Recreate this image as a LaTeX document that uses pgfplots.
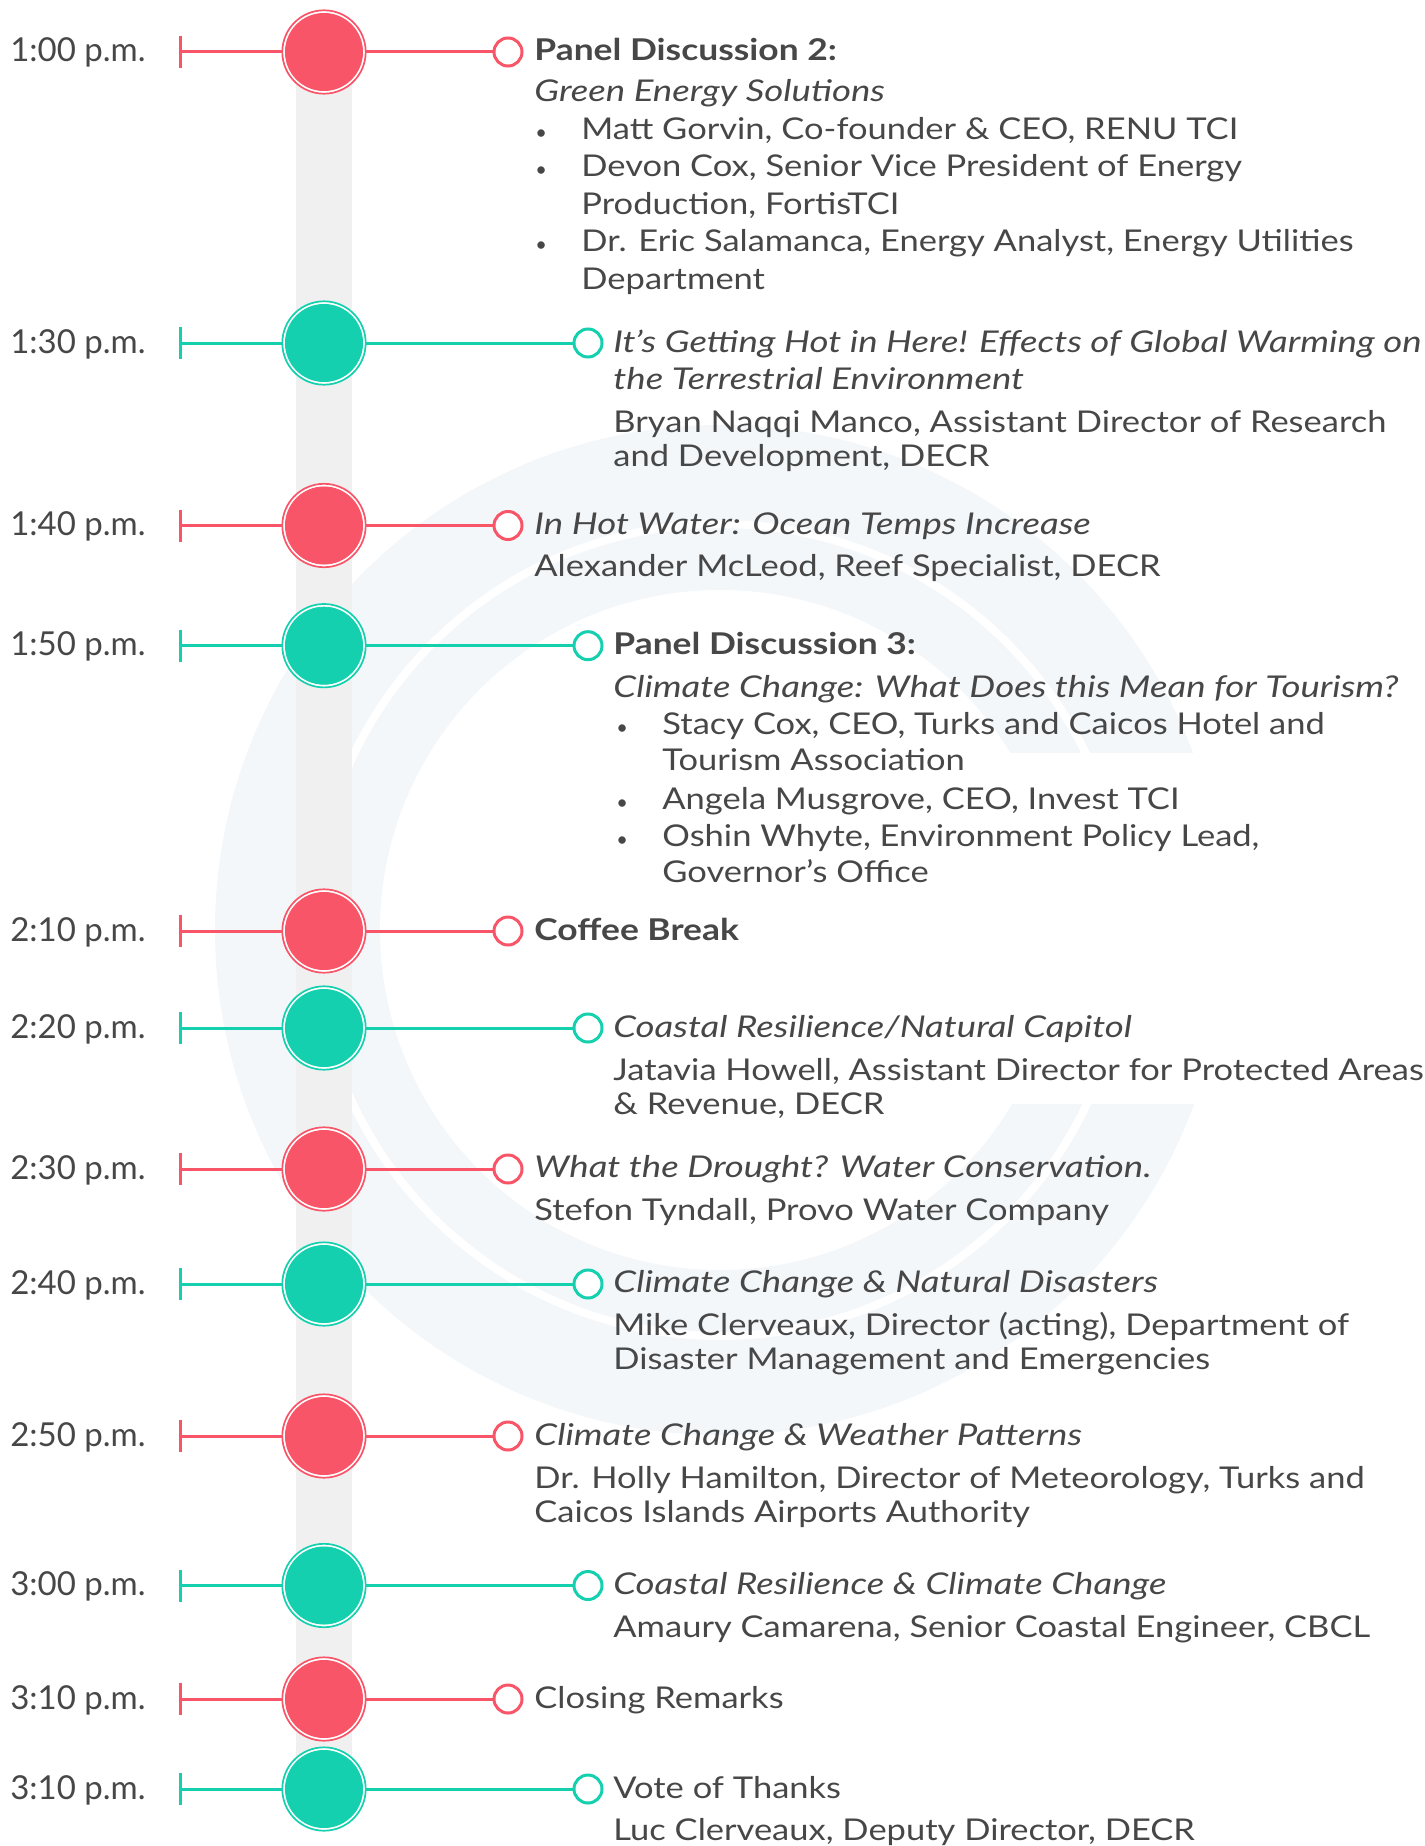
\documentclass[border=0pt]{standalone}
\usepackage{pgfplots}
\pgfplotsset{compat=1.18}
\usepackage{fontspec}
\setmainfont{Lato}[FakeStretch=1.15, ItalicFeatures={FakeStretch=1.22}, BoldFeatures={FakeStretch=1.18}]
\newfontfamily\timefont{Lato}
\definecolor{cred}{HTML}{F85568}
\definecolor{cgreen}{HTML}{14D0AF}
\definecolor{ctext}{HTML}{474747}
\definecolor{ccol}{HTML}{F0F0F0}
\definecolor{cwm}{HTML}{F3F7FA}
\tikzset{
  tx/.style={anchor=base west, inner sep=0pt, text=ctext, font=\fontsize{15}{18}\selectfont},
  bl/.style={anchor=base west, inner sep=0pt, text=ctext, font=\timefont\fontsize{10}{12}\selectfont},
  tm/.style={anchor=base, inner sep=0pt, text=ctext, font=\timefont\fontsize{16.5}{20}\selectfont},
}
\begin{document}
\begin{tikzpicture}
\begin{axis}[name=ax, width=712pt, height=923pt, scale only axis,
  xmin=0, xmax=1424, ymin=0, ymax=1846, y dir=reverse,
  hide axis, clip=false, unbounded coords=jump]
% faint watermark ring
\fill[cwm, even odd rule] (axis cs:720,930) circle[radius=252.5pt] (axis cs:720,930) circle[radius=170pt];
\draw[white, line width=4pt] (axis cs:720,930) circle[radius=203pt];
\fill[white] (axis cs:960,753) rectangle (axis cs:1300,1104);
% grey column
\addplot[draw=none, fill=ccol] coordinates {(296,52) (352,52) (352,1789) (296,1789)};
% red connectors
\addplot[cred, line width=1.5pt] coordinates {
(180,52) (508,52) (nan,nan)
(180,525.5) (508,525.5) (nan,nan)
(180,931) (508,931) (nan,nan)
(180,1169) (508,1169) (nan,nan)
(180,1436) (508,1436) (nan,nan)
(180,1699) (508,1699)};
\addplot[cred, line width=1.5pt] coordinates {
(180,36) (180,68) (nan,nan)
(180,509.5) (180,541.5) (nan,nan)
(180,915) (180,947) (nan,nan)
(180,1153) (180,1185) (nan,nan)
(180,1420) (180,1452) (nan,nan)
(180,1683) (180,1715)};
% green connectors
\addplot[cgreen, line width=1.5pt] coordinates {
(180,343) (588,343) (nan,nan)
(180,645.7) (588,645.7) (nan,nan)
(180,1028) (588,1028) (nan,nan)
(180,1284) (588,1284) (nan,nan)
(180,1585.5) (588,1585.5) (nan,nan)
(180,1789) (588,1789)};
\addplot[cgreen, line width=1.5pt] coordinates {
(180,327) (180,359) (nan,nan)
(180,629.7) (180,661.7) (nan,nan)
(180,1012) (180,1044) (nan,nan)
(180,1268) (180,1300) (nan,nan)
(180,1569.5) (180,1601.5) (nan,nan)
(180,1773) (180,1805)};
% big red circles
\addplot[cred, only marks, mark=*, mark size=20.85pt, mark options={fill=white, line width=0.85pt}] coordinates {
(324,52) (324,525.5) (324,931) (324,1169) (324,1436) (324,1699)};
\addplot[cred, only marks, mark=*, mark size=19.3pt, mark options={fill=cred, line width=0.4pt}] coordinates {
(324,52) (324,525.5) (324,931) (324,1169) (324,1436) (324,1699)};
% big green circles
\addplot[cgreen, only marks, mark=*, mark size=20.85pt, mark options={fill=white, line width=0.85pt}] coordinates {
(324,343) (324,645.7) (324,1028) (324,1284) (324,1585.5) (324,1789)};
\addplot[cgreen, only marks, mark=*, mark size=19.3pt, mark options={fill=cgreen, line width=0.4pt}] coordinates {
(324,343) (324,645.7) (324,1028) (324,1284) (324,1585.5) (324,1789)};
% small circles
\addplot[cred, only marks, mark=*, mark size=7pt, mark options={fill=white, line width=1.5pt}] coordinates {
(508,52) (508,525.5) (508,931) (508,1169) (508,1436) (508,1699)};
\addplot[cgreen, only marks, mark=*, mark size=7pt, mark options={fill=white, line width=1.5pt}] coordinates {
(588,343) (588,645.7) (588,1028) (588,1284) (588,1585.5) (588,1789)};
% time labels
\node[tm] at (axis cs:78,62) {1:00 p.m.};
\node[tm] at (axis cs:78,353) {1:30 p.m.};
\node[tm] at (axis cs:78,535.5) {1:40 p.m.};
\node[tm] at (axis cs:78,655.7) {1:50 p.m.};
\node[tm] at (axis cs:78,941) {2:10 p.m.};
\node[tm] at (axis cs:78,1038) {2:20 p.m.};
\node[tm] at (axis cs:78,1179) {2:30 p.m.};
\node[tm] at (axis cs:78,1294) {2:40 p.m.};
\node[tm] at (axis cs:78,1446) {2:50 p.m.};
\node[tm] at (axis cs:78,1595.5) {3:00 p.m.};
\node[tm] at (axis cs:78,1709) {3:10 p.m.};
\node[tm] at (axis cs:78,1799) {3:10 p.m.};
% row 1
\node[tx] at (axis cs:534,61) {\textbf{Panel Discussion 2:}};
\node[tx] at (axis cs:534,102) {\textit{Green Energy Solutions}};
\node[bl] at (axis cs:535,140) {•};
\node[tx] at (axis cs:581,140) {Matt Gorvin, Co-founder \& CEO, RENU TCI};
\node[bl] at (axis cs:535,177) {•};
\node[tx] at (axis cs:581,177) {Devon Cox, Senior Vice President of Energy};
\node[tx] at (axis cs:581,215) {Production, FortisTCI};
\node[bl] at (axis cs:535,252) {•};
\node[tx] at (axis cs:581,252) {Dr. Eric Salamanca, Energy Analyst, Energy Utilities};
\node[tx] at (axis cs:581,289) {Department};
% row 2
\node[tx] at (axis cs:613,352.5) {\textit{It’s Getting Hot in Here! Effects of Global Warming on}};
\node[tx] at (axis cs:613,389) {\textit{the Terrestrial Environment}};
\node[tx] at (axis cs:613,432.7) {Bryan Naqqi Manco, Assistant Director of Research};
\node[tx] at (axis cs:613,466.8) {and Development, DECR};
% row 3
\node[tx] at (axis cs:534,534.5) {\textit{In Hot Water: Ocean Temps Increase}};
\node[tx] at (axis cs:534,576.7) {Alexander McLeod, Reef Specialist, DECR};
% row 4
\node[tx] at (axis cs:613,654.7) {\textbf{Panel Discussion 3:}};
\node[tx] at (axis cs:613,697) {\textit{Climate Change: What Does this Mean for Tourism?}};
\node[bl] at (axis cs:616,734) {•};
\node[tx] at (axis cs:662,734) {Stacy Cox, CEO, Turks and Caicos Hotel and};
\node[tx] at (axis cs:662,770.6) {Tourism Association};
\node[bl] at (axis cs:616,809) {•};
\node[tx] at (axis cs:662,809) {Angela Musgrove, CEO, Invest TCI};
\node[bl] at (axis cs:616,846) {•};
\node[tx] at (axis cs:662,846) {Oshin Whyte, Environment Policy Lead,};
\node[tx] at (axis cs:662,882) {Governor’s Office};
% row 5
\node[tx] at (axis cs:534,940) {\textbf{Coffee Break}};
% row 6
\node[tx] at (axis cs:613,1037) {\textit{Coastal Resilience/Natural Capitol}};
\node[tx] at (axis cs:613,1080) {Jatavia Howell, Assistant Director for Protected Areas};
\node[tx] at (axis cs:613,1114) {\& Revenue, DECR};
% row 7
\node[tx] at (axis cs:534,1177.5) {\textit{What the Drought? Water Conservation.}};
\node[tx] at (axis cs:534,1220) {Stefon Tyndall, Provo Water Company};
% row 8
\node[tx] at (axis cs:613,1292) {\textit{Climate Change \& Natural Disasters}};
\node[tx] at (axis cs:613,1335) {Mike Clerveaux, Director (acting), Department of};
\node[tx] at (axis cs:613,1369.5) {Disaster Management and Emergencies};
% row 9
\node[tx] at (axis cs:534,1445) {\textit{Climate Change \& Weather Patterns}};
\node[tx] at (axis cs:534,1488) {Dr. Holly Hamilton, Director of Meteorology, Turks and};
\node[tx] at (axis cs:534,1522) {Caicos Islands Airports Authority};
% row 10
\node[tx] at (axis cs:613,1594.7) {\textit{Coastal Resilience \& Climate Change}};
\node[tx] at (axis cs:613,1637) {Amaury Camarena, Senior Coastal Engineer, CBCL};
% row 11
\node[tx] at (axis cs:534,1708) {Closing Remarks};
% row 12
\node[tx] at (axis cs:613,1798) {Vote of Thanks};
\node[tx] at (axis cs:613,1840) {Luc Clerveaux, Deputy Director, DECR};
\end{axis}
\pgfresetboundingbox
\path (ax.south west) rectangle (ax.north east);
\end{tikzpicture}
\end{document}
